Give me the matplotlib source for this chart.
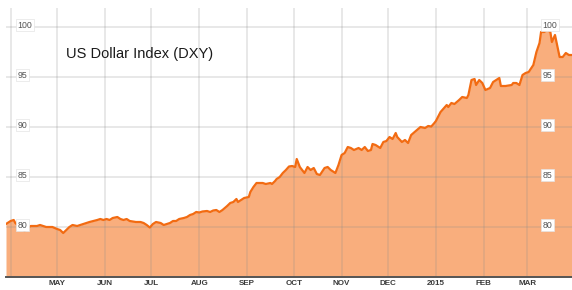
import numpy as np
import pandas as pd
import matplotlib
matplotlib.use('Agg')
import matplotlib.pyplot as plt
import matplotlib.dates as mdates

plt.rcParams['font.family'] = ['Liberation Sans', 'DejaVu Sans']

# US dollar index
dates = ['2014-03-29', '2014-04-01', '2014-04-03', '2014-04-04', '2014-04-07', '2014-04-10',
         '2014-04-12', '2014-04-14', '2014-04-18', '2014-04-20', '2014-04-24', '2014-04-28',
         '2014-05-01', '2014-05-03', '2014-05-05', '2014-05-07', '2014-05-09', '2014-05-11',
         '2014-05-14', '2014-05-16', '2014-05-20', '2014-05-22', '2014-05-27', '2014-05-29',
         '2014-05-31', '2014-06-02', '2014-06-04', '2014-06-06', '2014-06-09', '2014-06-11',
         '2014-06-13', '2014-06-15', '2014-06-17', '2014-06-21', '2014-06-24', '2014-06-26',
         '2014-06-28', '2014-06-30', '2014-07-02', '2014-07-04', '2014-07-07', '2014-07-09',
         '2014-07-11', '2014-07-13', '2014-07-15', '2014-07-17', '2014-07-19', '2014-07-22',
         '2014-07-24', '2014-07-26', '2014-07-28', '2014-07-30', '2014-08-01', '2014-08-03',
         '2014-08-06', '2014-08-08', '2014-08-10', '2014-08-12', '2014-08-14', '2014-08-16',
         '2014-08-19', '2014-08-21', '2014-08-23', '2014-08-25', '2014-08-26', '2014-08-28',
         '2014-08-30', '2014-09-02', '2014-09-03', '2014-09-05', '2014-09-07', '2014-09-09',
         '2014-09-11', '2014-09-13', '2014-09-16', '2014-09-17', '2014-09-19', '2014-09-20',
         '2014-09-22', '2014-09-24', '2014-09-26', '2014-09-28', '2014-09-30', '2014-10-02',
         '2014-10-03', '2014-10-05', '2014-10-08', '2014-10-10', '2014-10-12', '2014-10-14',
         '2014-10-16', '2014-10-18', '2014-10-21', '2014-10-23', '2014-10-25', '2014-10-28',
         '2014-10-30', '2014-11-01', '2014-11-03', '2014-11-05', '2014-11-07', '2014-11-09',
         '2014-11-12', '2014-11-14', '2014-11-16', '2014-11-18', '2014-11-20', '2014-11-21',
         '2014-11-23', '2014-11-26', '2014-11-28', '2014-11-30', '2014-12-02', '2014-12-04',
         '2014-12-06', '2014-12-07', '2014-12-10', '2014-12-12', '2014-12-14', '2014-12-16',
         '2014-12-19', '2014-12-22', '2014-12-25', '2014-12-27', '2014-12-29', '2014-12-31',
         '2015-01-01', '2015-01-03', '2015-01-04', '2015-01-08', '2015-01-09', '2015-01-11',
         '2015-01-13', '2015-01-16', '2015-01-18', '2015-01-21', '2015-01-22', '2015-01-24',
         '2015-01-26', '2015-01-27', '2015-01-29', '2015-01-31', '2015-02-02', '2015-02-05',
         '2015-02-07', '2015-02-09', '2015-02-11', '2015-02-12', '2015-02-15', '2015-02-19',
         '2015-02-20', '2015-02-22', '2015-02-24', '2015-02-25', '2015-02-26', '2015-02-28',
         '2015-03-02', '2015-03-05', '2015-03-07', '2015-03-09', '2015-03-10', '2015-03-12',
         '2015-03-14', '2015-03-16', '2015-03-17', '2015-03-19', '2015-03-21', '2015-03-22',
         '2015-03-24', '2015-03-26', '2015-03-28', '2015-03-30']
values = [80.3, 80.6, 80.7, 80.4, 80.0, 79.6,
          79.9, 80.1, 80.1, 80.2, 80.0, 80.0,
          79.8, 79.7, 79.4, 79.7, 80.0, 80.2,
          80.1, 80.2, 80.4, 80.5, 80.7, 80.8,
          80.7, 80.8, 80.7, 80.9, 81.0, 80.8,
          80.7, 80.8, 80.6, 80.5, 80.5, 80.4,
          80.2, 79.95, 80.3, 80.5, 80.4, 80.2,
          80.3, 80.4, 80.6, 80.6, 80.8, 80.9,
          81.0, 81.2, 81.3, 81.5, 81.45, 81.55,
          81.6, 81.5, 81.65, 81.7, 81.5, 81.7,
          82.1, 82.4, 82.5, 82.8, 82.5, 82.7,
          82.9, 83.0, 83.5, 84.0, 84.4, 84.4,
          84.4, 84.3, 84.4, 84.3, 84.6, 84.8,
          85.0, 85.4, 85.7, 86.05, 86.1, 86.0,
          86.8, 86.0, 85.4, 86.0, 85.7, 85.9,
          85.3, 85.2, 85.9, 86.0, 85.7, 85.4,
          86.2, 87.2, 87.4, 88.0, 87.9, 87.7,
          87.9, 87.7, 88.0, 87.6, 87.7, 88.3,
          88.2, 87.9, 88.5, 88.6, 89.0, 88.8,
          89.4, 89.0, 88.5, 88.7, 88.4, 89.2,
          89.6, 90.0, 89.9, 90.1, 90.05, 90.4,
          90.6, 91.2, 91.5, 92.2, 92.0, 92.4,
          92.3, 92.7, 93.0, 92.9, 93.2, 94.7,
          94.8, 94.2, 94.7, 94.4, 93.7, 93.9,
          94.5, 94.7, 94.9, 94.1, 94.1, 94.2,
          94.4, 94.4, 94.2, 94.7, 95.2, 95.4,
          95.5, 96.2, 97.5, 98.4, 99.5, 99.5,
          99.7, 99.5, 98.5, 99.2, 97.7, 97.0,
          97.0, 97.4, 97.2, 97.2]
y_ticks = [80, 85, 90, 95, 100]
title = 'US Dollar Index (DXY)'

x = pd.to_datetime(dates)
y = np.array(values)

W, H = 572, 290
fig = plt.figure(figsize=(W / 100, H / 100), dpi=100)
ax = fig.add_axes([6 / W, 13 / H, 566 / W, 269 / H])

ax.fill_between(x, y, 75, color='#f9ae7d', lw=0, zorder=1)
ax.plot(x, y, color='#f26b12', lw=1.6, zorder=3, solid_joinstyle='round')

ax.set_xlim(pd.Timestamp('2014-03-29'), pd.Timestamp('2015-03-30'))
ax.set_ylim(75, 101.9)

# grid sits on top of the fill, light and see-through
ax.xaxis.set_major_locator(mdates.MonthLocator())
ax.set_yticks(y_ticks)
ax.grid(True, color='#8c8c8c', alpha=0.22, lw=1.3, zorder=2)
ax.set_axisbelow(False)
ax.tick_params(length=0, labelleft=False, pad=2.5)

labels = []
for t in mdates.num2date(ax.get_xticks()):
    if t.month == 4:
        labels.append('')
    elif t.month == 1:
        labels.append(str(t.year))
    else:
        labels.append(t.strftime('%b').upper())
ax.set_xticks(ax.get_xticks())
ax.set_xticklabels(labels, fontsize=5.8, fontweight='bold', color='#3a3a3a')

for s in ['top', 'left', 'right']:
    ax.spines[s].set_visible(False)
ax.spines['bottom'].set_color('#555555')
ax.spines['bottom'].set_linewidth(1.4)
ax.spines['bottom'].set_zorder(4)

# y labels inside the plot, on both sides
for v in y_ticks:
    for xpos in [11.5 / 566, 536.5 / 566]:
        ax.text(xpos, v + 0.2, str(v), transform=ax.get_yaxis_transform(),
                fontsize=6.3, color='#555555', ha='left', va='center', zorder=5,
                bbox=dict(boxstyle='square,pad=0.2', fc='white', ec='#e4e4e4', lw=0.5))

fig.text(66.5 / W, 1 - 58.3 / H, title, fontsize=10.5, color='#1a1a1a',
         ha='left', va='baseline')

fig.savefig('out.png', dpi=100)
